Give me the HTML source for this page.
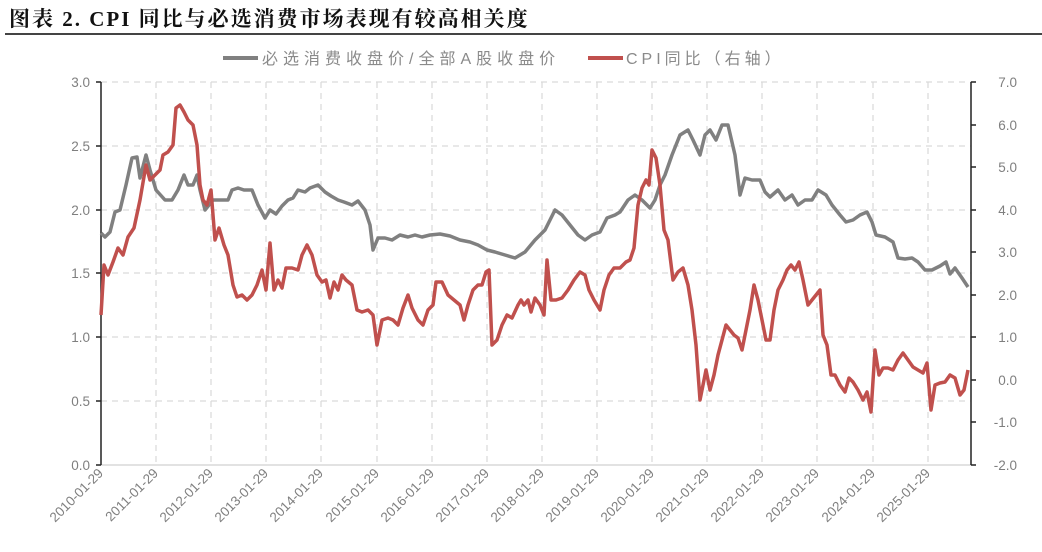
<!DOCTYPE html>
<html><head><meta charset="utf-8"><style>
body{margin:0;background:#fff;}
svg text{font-family:"Liberation Sans","Noto Sans CJK SC",sans-serif;}
</style></head><body>
<svg width="1042" height="547" viewBox="0 0 1042 547" xmlns="http://www.w3.org/2000/svg">
<text x="9" y="26" font-size="21" font-weight="bold" fill="#111" letter-spacing="2" style="font-family:'Liberation Serif','Noto Serif CJK SC',serif">图表 2. CPI 同比与必选消费市场表现有较高相关度</text>
<line x1="5" y1="34" x2="1042" y2="34" stroke="#444" stroke-width="2"/>
<line x1="223" y1="58" x2="258" y2="58" stroke="#808080" stroke-width="4"/>
<text x="262" y="64" font-size="16" fill="#8a8a8a" letter-spacing="5">必选消费收盘价/全部A股收盘价</text>
<line x1="588" y1="58" x2="623" y2="58" stroke="#c0504d" stroke-width="4"/>
<text x="626" y="64" font-size="16" fill="#8a8a8a" letter-spacing="4">CPI同比（右轴）</text>
<g stroke="#d9d9d9" stroke-width="1.2" stroke-dasharray="6,5">
<line x1="101" y1="82" x2="971" y2="82"/><line x1="101" y1="146" x2="971" y2="146"/><line x1="101" y1="210" x2="971" y2="210"/><line x1="101" y1="273" x2="971" y2="273"/><line x1="101" y1="337" x2="971" y2="337"/><line x1="101" y1="401" x2="971" y2="401"/>
<line x1="156" y1="82" x2="156" y2="465"/><line x1="211" y1="82" x2="211" y2="465"/><line x1="266" y1="82" x2="266" y2="465"/><line x1="321" y1="82" x2="321" y2="465"/><line x1="377" y1="82" x2="377" y2="465"/><line x1="432" y1="82" x2="432" y2="465"/><line x1="487" y1="82" x2="487" y2="465"/><line x1="542" y1="82" x2="542" y2="465"/><line x1="597" y1="82" x2="597" y2="465"/><line x1="652" y1="82" x2="652" y2="465"/><line x1="707" y1="82" x2="707" y2="465"/><line x1="762" y1="82" x2="762" y2="465"/><line x1="817" y1="82" x2="817" y2="465"/><line x1="873" y1="82" x2="873" y2="465"/><line x1="928" y1="82" x2="928" y2="465"/>
</g>
<line x1="101" y1="465" x2="971" y2="465" stroke="#d9d9d9" stroke-width="1.5"/>
<g stroke="#222" stroke-width="1.5" fill="none">
<line x1="101" y1="82" x2="101" y2="465"/>
<line x1="96" y1="82" x2="101" y2="82"/><line x1="96" y1="146" x2="101" y2="146"/><line x1="96" y1="210" x2="101" y2="210"/><line x1="96" y1="273" x2="101" y2="273"/><line x1="96" y1="337" x2="101" y2="337"/><line x1="96" y1="401" x2="101" y2="401"/><line x1="96" y1="465" x2="101" y2="465"/>
<line x1="971" y1="82" x2="971" y2="465"/>
<line x1="971" y1="82" x2="976" y2="82"/><line x1="971" y1="125" x2="976" y2="125"/><line x1="971" y1="167" x2="976" y2="167"/><line x1="971" y1="210" x2="976" y2="210"/><line x1="971" y1="252" x2="976" y2="252"/><line x1="971" y1="295" x2="976" y2="295"/><line x1="971" y1="337" x2="976" y2="337"/><line x1="971" y1="380" x2="976" y2="380"/><line x1="971" y1="422" x2="976" y2="422"/><line x1="971" y1="465" x2="976" y2="465"/>
</g>
<g font-size="13.5" fill="#7f7f7f" text-anchor="end">
<text x="90" y="87">3.0</text><text x="90" y="151">2.5</text><text x="90" y="215">2.0</text><text x="90" y="278">1.5</text><text x="90" y="342">1.0</text><text x="90" y="406">0.5</text><text x="90" y="470">0.0</text>
</g>
<g font-size="13.5" fill="#7f7f7f" text-anchor="end">
<text x="1017" y="87">7.0</text><text x="1017" y="130">6.0</text><text x="1017" y="172">5.0</text><text x="1017" y="215">4.0</text><text x="1017" y="257">3.0</text><text x="1017" y="300">2.0</text><text x="1017" y="342">1.0</text><text x="1017" y="385">0.0</text><text x="1017" y="427">-1.0</text><text x="1017" y="470">-2.0</text>
</g>
<g font-size="13.5" fill="#7f7f7f" text-anchor="end">
<text transform="translate(104,474) rotate(-45)">2010-01-29</text><text transform="translate(159,474) rotate(-45)">2011-01-29</text><text transform="translate(214,474) rotate(-45)">2012-01-29</text><text transform="translate(269,474) rotate(-45)">2013-01-29</text><text transform="translate(324,474) rotate(-45)">2014-01-29</text><text transform="translate(380,474) rotate(-45)">2015-01-29</text><text transform="translate(435,474) rotate(-45)">2016-01-29</text><text transform="translate(490,474) rotate(-45)">2017-01-29</text><text transform="translate(545,474) rotate(-45)">2018-01-29</text><text transform="translate(600,474) rotate(-45)">2019-01-29</text><text transform="translate(655,474) rotate(-45)">2020-01-29</text><text transform="translate(710,474) rotate(-45)">2021-01-29</text><text transform="translate(765,474) rotate(-45)">2022-01-29</text><text transform="translate(820,474) rotate(-45)">2023-01-29</text><text transform="translate(876,474) rotate(-45)">2024-01-29</text><text transform="translate(931,474) rotate(-45)">2025-01-29</text>
</g>
<polyline fill="none" stroke="#808080" stroke-width="3.5" stroke-linejoin="round" points="101,233 105,237 110,232 115,212 120,210 126,185 132,158 137,157 140,178 146,155 150,170 156,190 165,200 172,200 178,190 184,175 188,185 193,185 197,175 200,190 205,210 213,200 220,200 228,200 232,190 238,188 244,190 252,190 258,205 265,218 270,210 276,214 282,206 288,200 293,198 298,190 305,192 310,188 318,185 325,192 331,196 338,200 344,202 352,205 358,201 365,210 370,225 373,250 378,238 385,238 392,240 400,235 408,237 415,235 422,237 430,235 440,234 450,236 460,240 470,242 478,245 487,250 495,252 505,255 515,258 525,252 535,240 545,230 555,210 562,215 570,225 578,235 585,240 592,235 600,232 607,218 615,215 620,212 628,200 635,195 642,200 650,208 655,200 660,185 665,175 672,155 680,135 688,130 693,140 700,155 705,135 710,130 716,140 722,125 728,125 735,155 740,195 745,178 752,180 760,180 765,192 770,197 778,190 785,200 792,195 798,205 805,200 812,200 818,190 826,195 832,205 840,215 846,222 853,220 860,215 867,212 872,222 876,235 885,237 893,242 898,258 905,259 912,258 918,262 925,270 932,270 940,266 946,262 950,274 955,268 962,278 968,287"/>
<polyline fill="none" stroke="#c0504d" stroke-width="3.5" stroke-linejoin="round" points="101,315 104,265 108,275 113,262 118,248 123,255 128,237 134,228 140,200 146,165 150,180 155,175 160,170 163,155 168,152 173,145 176,108 180,105 184,112 188,120 193,125 197,145 200,185 203,200 207,205 211,190 215,240 219,228 224,245 228,255 233,285 237,297 242,295 247,300 252,295 257,285 262,270 266,290 270,243 274,290 278,280 282,288 286,268 292,268 298,270 302,255 307,245 312,255 317,275 322,282 326,280 330,298 334,282 338,290 342,275 346,280 352,285 357,310 362,312 368,310 373,315 377,345 382,320 388,318 393,320 398,325 403,308 408,295 412,308 418,320 423,325 428,310 433,305 436,282 442,282 448,295 454,300 460,305 464,320 468,305 473,290 478,285 482,285 486,272 489,270 492,345 497,340 502,325 507,315 512,318 518,305 521,300 524,305 528,300 531,312 535,298 540,305 544,315 547,260 551,300 556,300 562,298 568,290 574,280 580,272 585,275 589,290 594,300 600,310 604,290 609,275 614,268 620,268 626,262 630,260 634,248 638,205 642,188 646,180 649,185 652,150 656,158 660,185 664,230 668,240 673,280 678,272 683,268 688,285 692,310 696,345 700,400 703,385 706,370 710,390 714,375 718,355 722,340 726,325 730,330 734,335 738,338 742,350 746,330 750,310 754,285 758,300 762,320 766,340 770,340 774,310 778,290 783,280 787,270 791,265 795,270 799,262 803,280 808,305 812,300 816,295 820,290 823,335 827,345 831,375 835,375 840,385 845,392 849,378 853,382 858,390 863,400 867,392 871,412 875,350 879,375 883,368 888,368 893,370 898,360 903,353 908,360 913,367 918,370 923,373 927,363 931,410 935,385 940,383 945,382 950,375 955,378 960,395 964,390 968,370"/>
</svg>
</body></html>
